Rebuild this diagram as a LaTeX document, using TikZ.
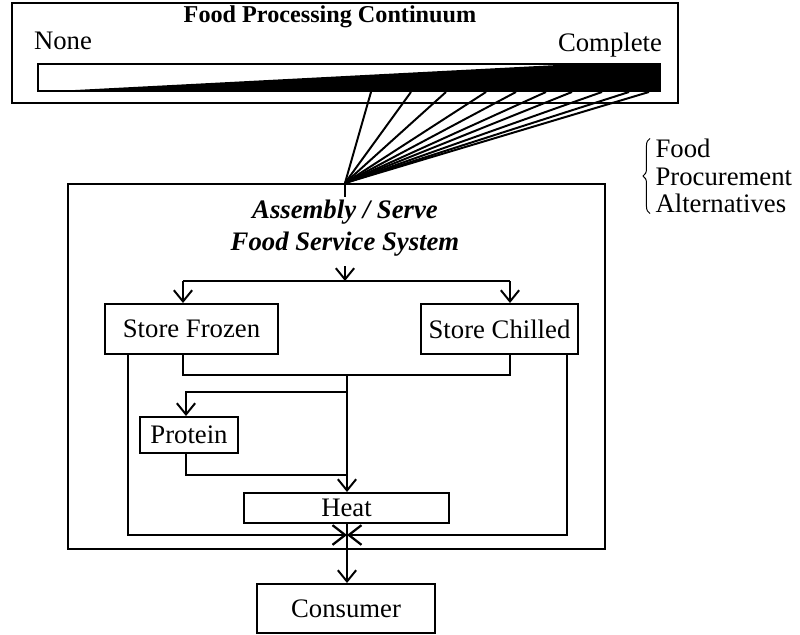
\documentclass[tikz,border=0pt]{standalone}
\usepackage{fontspec}
\setmainfont{Liberation Serif}
\usetikzlibrary{arrows.meta,calc,decorations.pathreplacing}
\def\u{0.0125cm}
\tikzset{
  box/.style={draw,line width=0.7pt,inner sep=0pt,font=\fontsize{9.5}{11}\selectfont},
  flow/.style={line width=0.7pt,-{Straight Barb[length=4pt,width=6.5pt,line width=0.7pt]}},
  meet/.style={line width=0.7pt,-{Straight Barb[length=4.5pt,width=7pt,line width=0.8pt]}},
  wire/.style={line width=0.7pt}
}
\begin{document}
\begin{tikzpicture}[x=0.0125cm,y=-0.0125cm]
  \useasboundingbox (0,0) rectangle (800,635);
  % processing continuum
  \node[box,minimum width=666*\u,minimum height=100*\u] (proc) at (345,53) {};
  \node[font=\bfseries\fontsize{8.6}{10}\selectfont] (ptitle) at (330,17) {Food Processing Continuum};
  \node[font=\fontsize{9.5}{11}\selectfont] (none) at (63,41) {None};
  \node[font=\fontsize{9.5}{11}\selectfont] (compl) at (610,45) {Complete};
  \node[box,minimum width=622*\u,minimum height=27*\u] (bar) at (349,77.5) {};
  \fill (bar.south west) -- ([xshift=-65*\u]bar.north east) -- (bar.north east)
        -- (bar.south east) -- cycle;
  % food service system
  \node[box,minimum width=537*\u,minimum height=365*\u] (sys) at (336.5,366.5) {};
  \coordinate (apex) at ([xshift=8.5*\u]sys.north);
  \foreach \x in {372,412,447,487,517,547,573,603,630,650}
    \draw[wire] (apex) -- ([xshift=(\x-38)*\u]bar.south west);
  \draw[wire] (apex) -- ([yshift=-14*\u]apex);
  \node[font=\bfseries\itshape\fontsize{9.5}{11.5}\selectfont,align=center] (asm) at (345,228)
       {Assembly / Serve\\Food Service System};
  \node[align=left,font=\fontsize{9.5}{9.8}\selectfont,inner sep=0pt,anchor=west] (alt) at (655,176)
       {Food\\Procurement\\Alternatives};
  \draw[line width=0.35pt,decorate,decoration={brace,amplitude=2.5pt}]
       ([xshift=-5*\u]alt.south west) -- ([xshift=-5*\u]alt.north west);
  \node[box,minimum width=173*\u,minimum height=50*\u] (frozen) at (191.5,329) {Store Frozen};
  \node[box,minimum width=157*\u,minimum height=50*\u] (chilled) at (499.5,329) {Store Chilled};
  \node[box,minimum width=98*\u,minimum height=36*\u] (protein) at (189,435) {Protein};
  \node[box,minimum width=205*\u,minimum height=30*\u] (heat) at (346.5,508) {Heat};
  \node[box,minimum width=178*\u,minimum height=49*\u] (consumer) at (346,608.5) {Consumer};
  \coordinate (split) at (345,281);
  \coordinate (join) at (347,375);
  \coordinate (ptap) at (347,392);
  \coordinate (pret) at (347,475);
  \coordinate (cross) at (347,535);
  \draw[flow] (asm.south) -- (split);
  \draw[wire] (183,281) -- (510,281);
  \draw[flow] (183,281) -- (frozen.north -| 183,0);
  \draw[flow] (510,281) -- (chilled.north -| 510,0);
  \draw[wire] (frozen.south -| 183,0) |- (join) -| (chilled.south -| 510,0);
  \draw[flow] (join) -- (heat.north -| join);
  \draw[flow] (ptap) -| (protein.north -| 186,0);
  \draw[wire] (protein.south -| 186,0) |- (pret);
  \draw[meet] (frozen.south -| 128,0) |- (cross);
  \draw[meet] (chilled.south -| 567,0) |- (cross);
  \draw[flow] (heat.south -| cross) -- (consumer.north -| cross);
\end{tikzpicture}
\end{document}
